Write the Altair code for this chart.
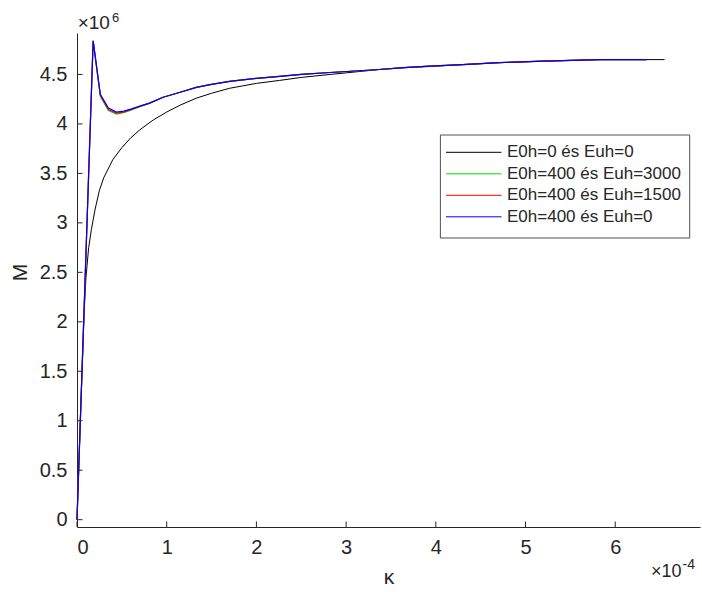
import altair as alt
import pandas as pd

# curvature in units of 1e-4, moment in units of 1e6
kappa_black = [0, 0.04, 0.08, 0.1, 0.13, 0.16, 0.2, 0.25, 0.3, 0.4, 0.5, 0.6, 0.7,
               0.85, 1.0, 1.15, 1.33, 1.5, 1.7, 2.0, 2.26, 2.5, 2.82, 3.1, 3.37,
               3.65, 3.93, 4.3, 4.71, 5.2, 5.83, 6.2, 6.55]
m_black = [0, 1.08, 2.1, 2.45, 2.75, 2.93, 3.13, 3.33, 3.46, 3.64, 3.76, 3.86, 3.94,
           4.04, 4.12, 4.19, 4.26, 4.31, 4.36, 4.41, 4.44, 4.47, 4.50, 4.525, 4.55,
           4.57, 4.58, 4.60, 4.62, 4.635, 4.65, 4.65, 4.65]

kappa_h = [0, 0.18, 0.26, 0.35, 0.44, 0.52, 0.6, 0.7, 0.81, 0.96, 1.15, 1.33, 1.5,
           1.7, 2.0, 2.26, 2.5, 2.82, 3.1, 3.37, 3.65, 3.93, 4.3, 4.71, 5.2, 5.83, 6.35]
m_green = [0, 4.84, 4.28, 4.135, 4.10, 4.115, 4.14, 4.175, 4.21, 4.27, 4.32, 4.37, 4.40,
           4.43, 4.46, 4.48, 4.50, 4.52, 4.535, 4.55, 4.57, 4.585, 4.60, 4.62, 4.635, 4.65, 4.65]
m_red = [0, 4.84, 4.29, 4.145, 4.11, 4.12, 4.145, 4.178, 4.21, 4.27, 4.32, 4.37, 4.40,
         4.43, 4.46, 4.48, 4.50, 4.52, 4.535, 4.55, 4.57, 4.585, 4.60, 4.62, 4.635, 4.65, 4.65]
m_blue = [0, 4.84, 4.30, 4.16, 4.12, 4.13, 4.15, 4.18, 4.21, 4.27, 4.32, 4.37, 4.40,
          4.43, 4.46, 4.48, 4.50, 4.52, 4.535, 4.55, 4.57, 4.585, 4.60, 4.62, 4.635, 4.65, 4.65]

names = ["E0h=0 és Euh=0", "E0h=400 és Euh=3000", "E0h=400 és Euh=1500", "E0h=400 és Euh=0"]
colors = ["#000000", "#00e000", "#ff0000", "#0000ff"]
widths = [1.0, 1.2, 1.2, 1.2]
series = [(kappa_black, m_black), (kappa_h, m_green), (kappa_h, m_red), (kappa_h, m_blue)]

x_ticks = [0, 1, 2, 3, 4, 5, 6]
y_ticks = [0, 0.5, 1, 1.5, 2, 2.5, 3, 3.5, 4, 4.5]

W, H = 623, 494
FONT = "Liberation Sans"
INK = "#262626"

x_enc = alt.X("kappa:Q",
              scale=alt.Scale(domain=[0, 6.945], nice=False, zero=False),
              axis=alt.Axis(values=x_ticks, format="d", grid=False, ticks=False, tickSize=0,
                            domainColor=INK, domainWidth=1, labelFont=FONT, labelFontSize=20,
                            labelColor=INK, labelPadding=10, title="κ", titleFont=FONT,
                            titleFontSize=21, titleFontWeight="normal", titleColor=INK,
                            titleY=50, titleBaseline="middle"))
y_enc = alt.Y("M:Q",
              scale=alt.Scale(domain=[-0.074, 4.919], nice=False, zero=False),
              axis=alt.Axis(values=y_ticks, format="~g", grid=False, ticks=False, tickSize=0,
                            domainColor=INK, domainWidth=1, labelFont=FONT, labelFontSize=20,
                            labelColor=INK, labelPadding=10, title="M", titleFont=FONT,
                            titleFontSize=21, titleFontWeight="normal", titleColor=INK,
                            titleX=-57, titleY=239, titleAngle=270, titleAlign="center",
                            titleBaseline="middle"))

layers = []
for (kx, my), name, col, sw in zip(series, names, colors, widths):
    df = pd.DataFrame({"kappa": kx, "M": my})
    layers.append(alt.Chart(df).mark_line(color=col, strokeWidth=sw).encode(x=x_enc, y=y_enc))

# inward tick marks
ytick_df = pd.DataFrame({"M": y_ticks})
layers.append(alt.Chart(ytick_df).mark_rule(color=INK, strokeWidth=1).encode(
    y=y_enc, x=alt.value(0), x2=alt.value(5.5)))
xtick_df = pd.DataFrame({"kappa": x_ticks})
layers.append(alt.Chart(xtick_df).mark_rule(color=INK, strokeWidth=1).encode(
    x=x_enc, y=alt.value(H), y2=alt.value(H - 5.5)))

# exponent labels
one = pd.DataFrame({"a": [0]})
def label(txt, x, y, size):
    return alt.Chart(one).mark_text(text=txt, font=FONT, fontSize=size, color=INK,
                                    align="left", baseline="alphabetic").encode(
        x=alt.value(x), y=alt.value(y))

layers += [label("×10", 0.7, -4, 19), label("6", 35, -11, 13),
           label("×10", 574, 544, 18), label("-4", 605.5, 536, 14)]

# legend
layers.append(alt.Chart(one).mark_rect(fill="white", stroke=INK, strokeWidth=0.8).encode(
    x=alt.value(363.4), x2=alt.value(612.7), y=alt.value(102), y2=alt.value(205)))
for i, (name, col) in enumerate(zip(names, colors)):
    yy = 119.3 + i * 21.5
    ldf = pd.DataFrame({"series": [name]})
    layers.append(alt.Chart(ldf).mark_rule(color=col, strokeWidth=1).encode(
        x=alt.value(369), x2=alt.value(424.5), y=alt.value(yy)))
    layers.append(alt.Chart(ldf).mark_text(font=FONT, fontSize=17, color=INK, align="left",
                                           baseline="middle").encode(
        x=alt.value(430), y=alt.value(yy), text="series:N"))

chart = alt.layer(*layers).properties(
    width=W, height=H,
    padding={"left": 77, "top": 33, "right": 2, "bottom": 65},
    autosize=alt.AutoSizeParams(type="none"),
    background="white",
).configure_view(stroke=None)

chart.save("out.html", embed_options={"renderer": "svg", "actions": False})
